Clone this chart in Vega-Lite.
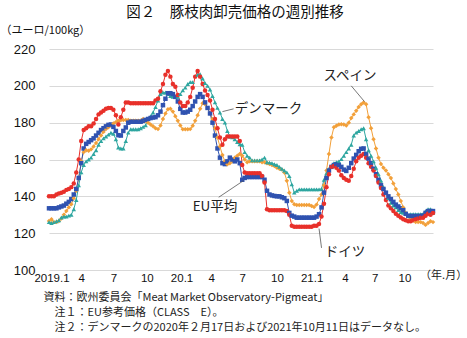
{
  "$schema": "https://vega.github.io/schema/vega-lite/v6.json",
  "width": 384,
  "height": 221,
  "autosize": "none",
  "padding": {"left": 49, "top": 49, "right": 34, "bottom": 68},
  "background": "white",
  "config": {"view": {"stroke": null}, "font": "Noto Sans CJK JP"},
  "title": {
    "text": "図２　豚枝肉卸売価格の週別推移",
    "fontSize": 14.5,
    "fontWeight": "normal",
    "font": "Noto Sans CJK JP",
    "color": "#111",
    "anchor": "middle",
    "frame": "group",
    "dx": -6,
    "dy": 2,
    "offset": 6
  },
  "datasets": {
    "prices": [
      {"w":0,"DE":140,"EU":133.5,"DK":126,"ES":126.6},
      {"w":1,"DE":140,"EU":133.5,"DK":125.5,"ES":127.5},
      {"w":2,"DE":140,"EU":133.5,"DK":126,"ES":126},
      {"w":3,"DE":141,"EU":133.5,"DK":126.5,"ES":126},
      {"w":4,"DE":141.5,"EU":134,"DK":127,"ES":126.6},
      {"w":5,"DE":142,"EU":134.5,"DK":128.5,"ES":128},
      {"w":6,"DE":142.5,"EU":135,"DK":129,"ES":130},
      {"w":7,"DE":143.5,"EU":136,"DK":129,"ES":132},
      {"w":8,"DE":144,"EU":137,"DK":129.5,"ES":134},
      {"w":9,"DE":145,"EU":138.5,"DK":130,"ES":135.7},
      {"w":10,"DE":147,"EU":141,"DK":133,"ES":139},
      {"w":11,"DE":153,"EU":144,"DK":138,"ES":143},
      {"w":12,"DE":160,"EU":150,"DK":146,"ES":150},
      {"w":13,"DE":170,"EU":158,"DK":153,"ES":159},
      {"w":14,"DE":176,"EU":166,"DK":157,"ES":164},
      {"w":15,"DE":177,"EU":168.5,"DK":159,"ES":165},
      {"w":16,"DE":178,"EU":169.5,"DK":160,"ES":164.7},
      {"w":17,"DE":178,"EU":170.5,"DK":161,"ES":165.5},
      {"w":18,"DE":179.5,"EU":171.5,"DK":163,"ES":167},
      {"w":19,"DE":182,"EU":173,"DK":165,"ES":169},
      {"w":20,"DE":184.5,"EU":174.5,"DK":168,"ES":171},
      {"w":21,"DE":185.5,"EU":176,"DK":170,"ES":173},
      {"w":22,"DE":186.5,"EU":177,"DK":171.5,"ES":175},
      {"w":23,"DE":187.5,"EU":178,"DK":172.5,"ES":176.5},
      {"w":24,"DE":188,"EU":178.8,"DK":173.5,"ES":177.5},
      {"w":25,"DE":188,"EU":179,"DK":174.5,"ES":178.5},
      {"w":26,"DE":187,"EU":177.7,"DK":174,"ES":179.5},
      {"w":27,"DE":184,"EU":175.5,"DK":171,"ES":180.3},
      {"w":28,"DE":179,"EU":173.2,"DK":166.5,"ES":181},
      {"w":29,"DE":183,"EU":173,"DK":166,"ES":181.3},
      {"w":30,"DE":187,"EU":175.5,"DK":166,"ES":181.5},
      {"w":31,"DE":191,"EU":177.4,"DK":170,"ES":181.5},
      {"w":32,"DE":191,"EU":180,"DK":174.6,"ES":181.5},
      {"w":33,"DE":190.5,"EU":180.5,"DK":176.4,"ES":181},
      {"w":34,"DE":190.5,"EU":180.5,"DK":176.4,"ES":181},
      {"w":35,"DE":190.5,"EU":180.5,"DK":176.4,"ES":181},
      {"w":36,"DE":190.5,"EU":180.5,"DK":176.4,"ES":181},
      {"w":37,"DE":190.5,"EU":180.5,"DK":177,"ES":181},
      {"w":38,"DE":190.5,"EU":181,"DK":177.7,"ES":182},
      {"w":39,"DE":190.5,"EU":181.5,"DK":178.5,"ES":181},
      {"w":40,"DE":190.5,"EU":182,"DK":182,"ES":180},
      {"w":41,"DE":190.5,"EU":182.5,"DK":183.5,"ES":179},
      {"w":42,"DE":190.5,"EU":182.8,"DK":185.5,"ES":178},
      {"w":43,"DE":192,"EU":183,"DK":188.5,"ES":177},
      {"w":44,"DE":193,"EU":184,"DK":192,"ES":176.5},
      {"w":45,"DE":197,"EU":186,"DK":195.5,"ES":178.5},
      {"w":46,"DE":201,"EU":189.5,"DK":196.4,"ES":182},
      {"w":47,"DE":206,"EU":193,"DK":196.4,"ES":185},
      {"w":48,"DE":208,"EU":196,"DK":195.5,"ES":187.3},
      {"w":49,"DE":205,"EU":196,"DK":194.5,"ES":187.5},
      {"w":50,"DE":201,"EU":195.5,"DK":194,"ES":186},
      {"w":51,"DE":199.5,"EU":194,"DK":194,"ES":183.5},
      {"w":52,"DE":195,"EU":191.5,"DK":194,"ES":181},
      {"w":53,"DE":191,"EU":187.5,"DK":195.5,"ES":178.5},
      {"w":54,"DE":189,"EU":185.5,"DK":197.5,"ES":176.4},
      {"w":55,"DE":189,"EU":185.5,"DK":199,"ES":176.4},
      {"w":56,"DE":191,"EU":186,"DK":201,"ES":176.4},
      {"w":57,"DE":194,"EU":187,"DK":202,"ES":176.5},
      {"w":58,"DE":199,"EU":189,"DK":202,"ES":178.3},
      {"w":59,"DE":205,"EU":191.5,"DK":null,"ES":181},
      {"w":60,"DE":208,"EU":194,"DK":206,"ES":184},
      {"w":61,"DE":205,"EU":195.5,"DK":206.3,"ES":187.5},
      {"w":62,"DE":201,"EU":194,"DK":204,"ES":190.5},
      {"w":63,"DE":197.5,"EU":191,"DK":201.5,"ES":190},
      {"w":64,"DE":195,"EU":188,"DK":200,"ES":188},
      {"w":65,"DE":192,"EU":185,"DK":198,"ES":185},
      {"w":66,"DE":187,"EU":180,"DK":194.5,"ES":182},
      {"w":67,"DE":182,"EU":173,"DK":191,"ES":177},
      {"w":68,"DE":177,"EU":166,"DK":188,"ES":172},
      {"w":69,"DE":172,"EU":161,"DK":185.5,"ES":167},
      {"w":70,"DE":168,"EU":158,"DK":182,"ES":162.5},
      {"w":71,"DE":171,"EU":157.5,"DK":180,"ES":159},
      {"w":72,"DE":172.5,"EU":159,"DK":175.5,"ES":157.4},
      {"w":73,"DE":172.5,"EU":161,"DK":172.5,"ES":158},
      {"w":74,"DE":172.5,"EU":160,"DK":172,"ES":159},
      {"w":75,"DE":172.5,"EU":159,"DK":171,"ES":161},
      {"w":76,"DE":172.5,"EU":160,"DK":169.5,"ES":162},
      {"w":77,"DE":170,"EU":158,"DK":168.3,"ES":163},
      {"w":78,"DE":157,"EU":149,"DK":168,"ES":162},
      {"w":79,"DE":153,"EU":150,"DK":164,"ES":160},
      {"w":80,"DE":152.5,"EU":150.5,"DK":162,"ES":158.5},
      {"w":81,"DE":152.5,"EU":150.5,"DK":161,"ES":159},
      {"w":82,"DE":152.5,"EU":150.5,"DK":159.5,"ES":159},
      {"w":83,"DE":152.5,"EU":150.5,"DK":159.5,"ES":159},
      {"w":84,"DE":152.5,"EU":150.5,"DK":159.5,"ES":159},
      {"w":85,"DE":152.5,"EU":150.5,"DK":159.5,"ES":159},
      {"w":86,"DE":151,"EU":150.5,"DK":160,"ES":158.5},
      {"w":87,"DE":147.5,"EU":149,"DK":161,"ES":158.5},
      {"w":88,"DE":133,"EU":143,"DK":158.5,"ES":158},
      {"w":89,"DE":132.5,"EU":141,"DK":158.3,"ES":157.5},
      {"w":90,"DE":132.5,"EU":140.5,"DK":158,"ES":157},
      {"w":91,"DE":132.5,"EU":140.2,"DK":157.4,"ES":156.5},
      {"w":92,"DE":132.5,"EU":140,"DK":157,"ES":155.5},
      {"w":93,"DE":132.5,"EU":140,"DK":156,"ES":155},
      {"w":94,"DE":132.5,"EU":139.5,"DK":155,"ES":154.5},
      {"w":95,"DE":132.5,"EU":139,"DK":154,"ES":153},
      {"w":96,"DE":132,"EU":137.5,"DK":153,"ES":148.5},
      {"w":97,"DE":130,"EU":131,"DK":151,"ES":142},
      {"w":98,"DE":124,"EU":129.5,"DK":146.5,"ES":137.5},
      {"w":99,"DE":123.5,"EU":129,"DK":142,"ES":135.7},
      {"w":100,"DE":123.5,"EU":128.4,"DK":143,"ES":135.3},
      {"w":101,"DE":123.5,"EU":128.4,"DK":143.8,"ES":135.3},
      {"w":102,"DE":123.5,"EU":128.4,"DK":143.8,"ES":135.3},
      {"w":103,"DE":123.5,"EU":128.4,"DK":143.8,"ES":135.3},
      {"w":104,"DE":123.5,"EU":128.4,"DK":143.8,"ES":135.3},
      {"w":105,"DE":123.5,"EU":128.4,"DK":143.8,"ES":135.3},
      {"w":106,"DE":123.5,"EU":128.4,"DK":143.8,"ES":134.8},
      {"w":107,"DE":124,"EU":128.4,"DK":143.8,"ES":134.2},
      {"w":108,"DE":124,"EU":129,"DK":143.8,"ES":135.5},
      {"w":109,"DE":125,"EU":130.3,"DK":143.8,"ES":138.5},
      {"w":110,"DE":129,"EU":134,"DK":144,"ES":141},
      {"w":111,"DE":136,"EU":142,"DK":149,"ES":146},
      {"w":112,"DE":145,"EU":150,"DK":152.5,"ES":154},
      {"w":113,"DE":152,"EU":154,"DK":155,"ES":163},
      {"w":114,"DE":156,"EU":156,"DK":156.5,"ES":172},
      {"w":115,"DE":156.5,"EU":157,"DK":158,"ES":177.5},
      {"w":116,"DE":155.5,"EU":157.4,"DK":158.5,"ES":178.3},
      {"w":117,"DE":154,"EU":157,"DK":159,"ES":179},
      {"w":118,"DE":151.5,"EU":156,"DK":160.2,"ES":179.2},
      {"w":119,"DE":150,"EU":154.5,"DK":162,"ES":179},
      {"w":120,"DE":149,"EU":153.8,"DK":164,"ES":178.5},
      {"w":121,"DE":148.5,"EU":155.5,"DK":166,"ES":180},
      {"w":122,"DE":151,"EU":158,"DK":168,"ES":182.5},
      {"w":123,"DE":155,"EU":160.5,"DK":173,"ES":184.5},
      {"w":124,"DE":159,"EU":162.5,"DK":174.6,"ES":186.5},
      {"w":125,"DE":161,"EU":164.5,"DK":175.5,"ES":188.5},
      {"w":126,"DE":162,"EU":165.8,"DK":176.4,"ES":190},
      {"w":127,"DE":163,"EU":166,"DK":177,"ES":191},
      {"w":128,"DE":161,"EU":163,"DK":171,"ES":190},
      {"w":129,"DE":158,"EU":160.5,"DK":165,"ES":183},
      {"w":130,"DE":156,"EU":158,"DK":162,"ES":177},
      {"w":131,"DE":154,"EU":155,"DK":159,"ES":171},
      {"w":132,"DE":151,"EU":152,"DK":155.5,"ES":166},
      {"w":133,"DE":147.5,"EU":149,"DK":152,"ES":161},
      {"w":134,"DE":144.5,"EU":146,"DK":148.5,"ES":157.5},
      {"w":135,"DE":141,"EU":144,"DK":145,"ES":155.5},
      {"w":136,"DE":138,"EU":142,"DK":142,"ES":154},
      {"w":137,"DE":135,"EU":140,"DK":139,"ES":152},
      {"w":138,"DE":133.5,"EU":138.5,"DK":136.5,"ES":150},
      {"w":139,"DE":132,"EU":137,"DK":135,"ES":147},
      {"w":140,"DE":130.5,"EU":135.5,"DK":134,"ES":144},
      {"w":141,"DE":129.5,"EU":134.5,"DK":132.5,"ES":141},
      {"w":142,"DE":128.5,"EU":133.5,"DK":131.5,"ES":137.5},
      {"w":143,"DE":127.5,"EU":132.5,"DK":131,"ES":134},
      {"w":144,"DE":127,"EU":130.5,"DK":130.5,"ES":131},
      {"w":145,"DE":126.5,"EU":129.5,"DK":null,"ES":129},
      {"w":146,"DE":126.5,"EU":129.3,"DK":130.3,"ES":128},
      {"w":147,"DE":127,"EU":129.3,"DK":130.3,"ES":127},
      {"w":148,"DE":127.5,"EU":129.3,"DK":130.3,"ES":126},
      {"w":149,"DE":128,"EU":129.3,"DK":130.3,"ES":126},
      {"w":150,"DE":128.4,"EU":129.3,"DK":130.3,"ES":126},
      {"w":151,"DE":128.4,"EU":129.5,"DK":130.5,"ES":125.5},
      {"w":152,"DE":129.5,"EU":131,"DK":132,"ES":124.5},
      {"w":153,"DE":130.5,"EU":132,"DK":133,"ES":125.5},
      {"w":154,"DE":130,"EU":132,"DK":133,"ES":126.5},
      {"w":155,"DE":131,"EU":132,"DK":131,"ES":126}
    ],
    "labels": [
      {"label":"デンマーク","w":88.6,"value":187.5},
      {"label":"スペイン","w":121.5,"value":205.5},
      {"label":"EU平均","w":67,"value":134},
      {"label":"ドイツ","w":119.5,"value":110}
    ],
    "leaders": [
      {"w":70,"value":186,"w2":74.5,"value2":187.5},
      {"w":122,"value":200,"w2":127.3,"value2":191.5},
      {"w":68.5,"value":139.5,"w2":78.5,"value2":148.5},
      {"w":109,"value":122.5,"w2":110,"value2":112}
    ],
    "unit": [
      {"label":"（年.月）","w":159.3,"value":96.7}
    ]
  },
  "encoding": {
    "x": {
      "field": "w", "type": "quantitative",
      "scale": {"domain": [0, 155], "nice": false, "zero": false},
      "axis": {
        "values": [1, 13, 26, 39.5, 53.5, 65.5, 78, 92, 106, 119.5, 131.5, 143.5],
        "labelExpr": "['2019.1','4','7','10','20.1','4','7','10','21.1','4','7','10'][indexof([1, 13, 26, 39.5, 53.5, 65.5, 78, 92, 106, 119.5, 131.5, 143.5], datum.value)]",
        "grid": false, "domain": false, "ticks": false,
        "labelPadding": 2, "labelFontSize": 11.5, "labelColor": "#111",
        "labelFont": "Liberation Sans Narrow, Liberation Sans",
        "labelFlush": false, "labelOverlap": false,
        "title": [
          "資料：欧州委員会「Meat Market Observatory-Pigmeat」",
          "\u200b\u3000注１：EU参考価格（CLASS　E）。",
          "\u200b\u3000注２：デンマークの2020年２月17日および2021年10月11日はデータなし。"
        ],
        "titleFont": "Noto Sans CJK JP", "titleFontSize": 11, "titleFontWeight": "normal",
        "titleColor": "#222", "titleAnchor": "start", "titleAlign": "left",
        "titleBaseline": "top", "titleX": -6, "titleY": 21, "titleLineHeight": 15
      }
    },
    "y": {
      "field": "value", "type": "quantitative",
      "scale": {"domain": [100, 220], "nice": false, "zero": false},
      "axis": {
        "values": [100, 120, 140, 160, 180, 200, 220],
        "grid": true, "gridColor": "#d9d9d9", "gridWidth": 1,
        "domain": false, "ticks": false,
        "labelPadding": 14, "labelFontSize": 13, "labelColor": "#111",
        "labelFont": "Liberation Sans",
        "title": "（ユーロ/100kg）", "titleAngle": 0, "titleAlign": "left",
        "titleBaseline": "middle", "titleX": -49, "titleY": -19,
        "titleFont": "Noto Sans CJK JP", "titleFontSize": 11, "titleFontWeight": "normal",
        "titleColor": "#111"
      }
    }
  },
  "layer": [
    {
      "data": {"name": "prices"},
      "transform": [{"fold": ["ES","DK","EU","DE"], "as": ["series","value"]}],
      "layer": [
        {
          "mark": {"type": "line", "strokeWidth": 1},
          "encoding": {
            "color": {"field": "series", "type": "nominal", "legend": null,
              "scale": {"domain": ["ES","DK","EU","DE"], "range": ["#f2a03a","#2ea6a0","#2f52b0","#e8302a"]}}
          }
        },
        {
          "mark": {"type": "point", "filled": true, "size": 20, "opacity": 1},
          "encoding": {
            "color": {"field": "series", "type": "nominal", "legend": null},
            "shape": {"field": "series", "type": "nominal", "legend": null,
              "scale": {"domain": ["ES","DK","EU","DE"], "range": ["diamond","triangle-up","square","circle"]}}
          }
        }
      ]
    },
    {
      "data": {"name": "leaders"},
      "mark": {"type": "rule", "color": "#555", "strokeWidth": 0.8},
      "encoding": {
        "x2": {"field": "w2"},
        "y2": {"field": "value2"}
      }
    },
    {
      "data": {"name": "labels"},
      "mark": {"type": "text", "fontSize": 13.5, "font": "Noto Sans CJK JP", "color": "#222", "baseline": "middle", "align": "center"},
      "encoding": {
        "text": {"field": "label"}
      }
    },
    {
      "data": {"name": "unit"},
      "mark": {"type": "text", "fontSize": 11, "font": "Noto Sans CJK JP", "color": "#222", "baseline": "middle", "align": "center", "clip": false},
      "encoding": {
        "text": {"field": "label"}
      }
    }
  ]
}
